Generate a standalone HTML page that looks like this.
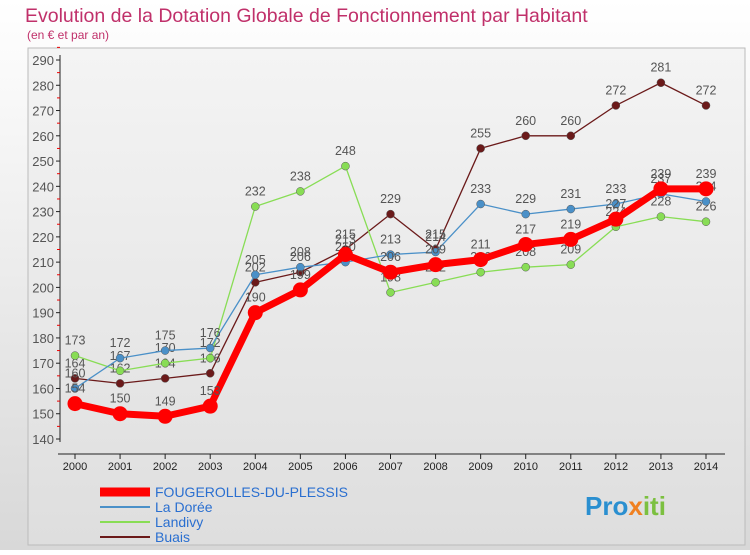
<!DOCTYPE html>
<html><head><meta charset="utf-8"><style>
body{margin:0;width:750px;height:550px;overflow:hidden;font-family:"Liberation Sans",sans-serif;}
</style></head><body>
<svg width="750" height="550" xmlns="http://www.w3.org/2000/svg">
<defs>
<linearGradient id="bg" x1="0" y1="0" x2="0" y2="1"><stop offset="0" stop-color="#ffffff"/><stop offset="1" stop-color="#d8d8d8"/></linearGradient>
<linearGradient id="bg2" x1="0" y1="0" x2="0" y2="1"><stop offset="0" stop-color="#f4f4f4"/><stop offset="1" stop-color="#dedede"/></linearGradient>
</defs>
<rect x="0" y="0" width="750" height="550" fill="url(#bg)"/>
<rect x="28" y="48" width="717" height="497" fill="url(#bg2)" stroke="#bbb"/>
<text x="25" y="22" font-size="19.5" fill="#c0306a">Evolution de la Dotation Globale de Fonctionnement par Habitant</text>
<text x="27" y="39" font-size="12" fill="#c0306a">(en € et par an)</text>
<g id="axes"></g>
<g id="series"></g>
<g id="legend"></g>
<text x="585" y="515" font-size="26" font-weight="bold" fill="#2a8fd0">Pro<tspan fill="#f08020">x</tspan><tspan fill="#7cc040">iti</tspan></text>
</svg>
<script>
const years=[2000,2001,2002,2003,2004,2005,2006,2007,2008,2009,2010,2011,2012,2013,2014];
const yTicks=[140,150,160,170,180,190,200,210,220,230,240,250,260,270,280,290];
const fougerolles=[154,150,149,153,190,199,213,206,209,211,217,219,227,239,239];
const laDoree=[160,172,175,176,205,208,210,213,214,233,229,231,233,237,234];
const landivy=[173,167,170,172,232,238,248,198,202,206,208,209,224,228,226];
const buais=[164,162,164,166,202,206,215,229,215,255,260,260,272,281,272];
const NS="http://www.w3.org/2000/svg";
const x0=75,x1=706,yb=439,yt=60,vmin=140,vmax=290;
const X=i=>x0+(x1-x0)*i/(years.length-1);
const Y=v=>yb-(v-vmin)*(yb-yt)/(vmax-vmin);
function mk(tag,attrs,parent){const e=document.createElementNS(NS,tag);for(const k in attrs)e.setAttribute(k,attrs[k]);parent.appendChild(e);return e;}
const ax=document.getElementById('axes');
let l=mk('line',{x1:60,y1:yt-5,x2:60,y2:yb+3,stroke:'#222'},ax);


l=mk('line',{x1:58,y1:yb+15,x2:725,y2:yb+15,stroke:'#222'},ax);


yTicks.forEach(v=>{
 mk('line',{x1:56,y1:Y(v),x2:60,y2:Y(v),stroke:'#222'},ax);
 mk('line',{x1:57,y1:Y(v+5),x2:60,y2:Y(v+5),stroke:'#e00'},ax);
 const t=mk('text',{x:54,y:Y(v)+5,'text-anchor':'end','font-size':13,fill:'#555'},ax);
 t.textContent=v;
 
 
});
years.forEach((yr,i)=>{
 mk('line',{x1:X(i),y1:yb+15,x2:X(i),y2:yb+20,stroke:'#222'},ax);
 const t=mk('text',{x:X(i),y:yb+31,'text-anchor':'middle','font-size':11,fill:'#222'},ax);
 t.textContent=yr;
 
 
});
const sg=document.getElementById('series');
const defs=[[buais,'#6b1a1a',1.3,4,'buais'],[landivy,'#88dd55',1.3,4,'landivy'],[laDoree,'#4a90c8',1.3,4,'la-doree'],[fougerolles,'#ff0000',7,7.5,'fougerolles-du-plessis']];
defs.forEach(([data,c,w,r,name])=>{
 const g=mk('g',{},sg);
 
 
 const p=mk('polyline',{points:data.map((v,i)=>X(i)+','+Y(v)).join(' '),fill:'none',stroke:c,'stroke-width':w,'stroke-linejoin':'round'},g);
 
 
 data.forEach((v,i)=>{
  const d=mk('circle',{cx:X(i),cy:Y(v),r:r,fill:c,stroke:w>2?'none':'#555','stroke-width':0.5},g);
  
  
  const t=mk('text',{x:X(i),y:Y(v)-11,'text-anchor':'middle','font-size':12.5,fill:'#555'},g);
  t.textContent=v;
  
  
 });
});
const lg=document.getElementById('legend');
const items=[['FOUGEROLLES-DU-PLESSIS','#ff0000',9],['La Dorée','#4a90c8',2],['Landivy','#88dd55',2],['Buais','#6b1a1a',2]];
items.forEach(([n,c,w],i)=>{
 const y=492+i*15;
 const g=mk('g',{},lg);
 
 
 mk('line',{x1:100,y1:y,x2:150,y2:y,stroke:c,'stroke-width':w},g);
 const t=mk('text',{x:155,y:y+5,'font-size':14,fill:'#2a6fd0'},g);
 t.textContent=n;
});
</script>
</body></html>
